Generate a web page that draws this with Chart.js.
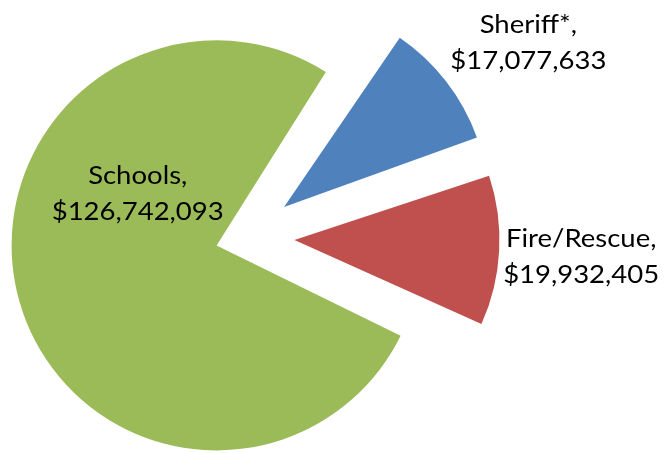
<html>
  <head>
    <script src="https://cdn.jsdelivr.net/npm/chart.js@4.4.1/dist/chart.umd.min.js"></script>
    <style>
      body { margin: 0; background: #fff; }
      #wrap { width: 665px; height: 453px; }
    </style>
  </head>
  <body>
    <div id="wrap"><canvas id="pie"></canvas></div>

    <script>
      // budget split
      var categories = ['Sheriff*', 'Fire/Rescue', 'Schools'];
      var amounts = [17077633, 19932405, 126742093];
      var sliceColors = ['#4F81BD', '#C0504D', '#9BBB59'];
      var explode = [200, 200, 116];   // arc offset, chart.js moves a slice by offset/4

      var PIE_RADIUS = 205;

      // label spot for each slice: angle (deg, clockwise from top) and distance in radii
      var labelSpots = [
        { angle: 55.6, dist: 1.678 },
        { angle: 93.35, dist: 1.645 },
        { angle: 292.3, dist: 0.563 }
      ];

      function money(v) {
        return '$' + v.toLocaleString('en-US');
      }

      // chart.js grows the radius of an exploded arc, pull it back so all slices are the same size
      var evenRadius = {
        id: 'evenRadius',
        afterDatasetsUpdate: function(chart) {
          chart.getDatasetMeta(0).data.forEach(function(arc, i) {
            var shift = explode[i] / 4;
            var fix = 1 - Math.sin(Math.min(Math.PI, arc.circumference));
            arc.outerRadius = PIE_RADIUS - shift * fix;
          });
        }
      };

      var sliceLabels = {
        id: 'sliceLabels',
        afterDatasetsDraw: function(chart) {
          var ctx = chart.ctx;
          var meta = chart.getDatasetMeta(0);
          meta.data.forEach(function(arc, i) {
            var spot = labelSpots[i];
            var a = spot.angle * Math.PI / 180;
            var x = arc.x + Math.sin(a) * spot.dist * PIE_RADIUS;
            var y = arc.y - Math.cos(a) * spot.dist * PIE_RADIUS;
            ctx.save();
            ctx.translate(x, y);
            ctx.scale(1.1, 1);   // a touch wider, like Calibri
            ctx.font = '25px Lato';
            ctx.fillStyle = '#000';
            ctx.textAlign = 'center';
            ctx.textBaseline = 'middle';
            ctx.fillText(categories[i] + ',', 0, -18);
            ctx.fillText(money(amounts[i]), 0, 18);
            ctx.restore();
          });
        }
      };

      new Chart(document.getElementById('pie'), {
        type: 'pie',
        data: {
          labels: categories,
          datasets: [{
            data: amounts,
            backgroundColor: sliceColors,
            borderWidth: 0,
            offset: explode,
            clip: false
          }]
        },
        options: {
          responsive: true,
          maintainAspectRatio: false,
          animation: false,
          events: [],
          rotation: 33.5,
          radius: PIE_RADIUS,
          layout: { padding: { left: 0, right: 176, top: 22, bottom: 0 } },
          plugins: {
            legend: { display: false },
            tooltip: { enabled: false }
          }
        },
        plugins: [evenRadius, sliceLabels]
      });
    </script>
  </body>
</html>
